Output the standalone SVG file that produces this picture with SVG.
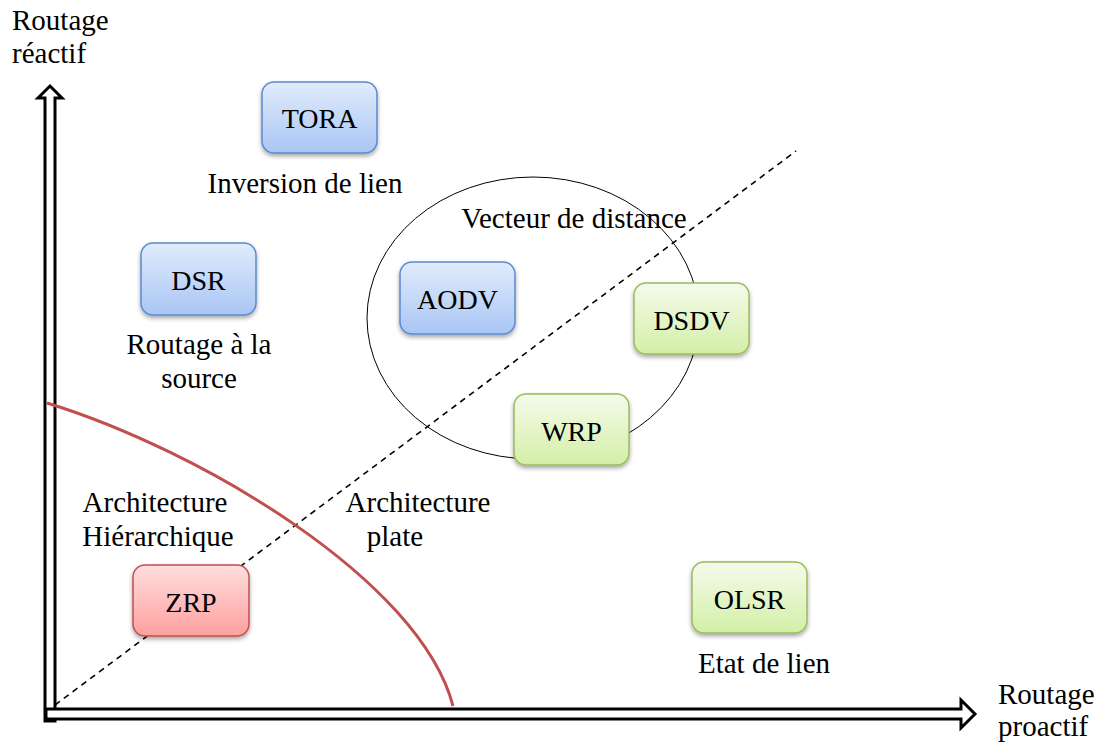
<svg xmlns="http://www.w3.org/2000/svg" width="1099" height="742" viewBox="0 0 1099 742">
  <defs>
    <linearGradient id="gBlue" x1="0" y1="0" x2="0" y2="1">
      <stop offset="0" stop-color="#e1ebfc"/>
      <stop offset="1" stop-color="#a9c6f4"/>
    </linearGradient>
    <linearGradient id="gGreen" x1="0" y1="0" x2="0" y2="1">
      <stop offset="0" stop-color="#f5fbec"/>
      <stop offset="1" stop-color="#d3efa7"/>
    </linearGradient>
    <linearGradient id="gRed" x1="0" y1="0" x2="0" y2="1">
      <stop offset="0" stop-color="#ffdede"/>
      <stop offset="1" stop-color="#ff9f9f"/>
    </linearGradient>
    <filter id="shadow" x="-20%" y="-20%" width="140%" height="150%">
      <feDropShadow dx="0" dy="2.5" stdDeviation="2" flood-color="#000" flood-opacity="0.35"/>
    </filter>
  </defs>
  <style>
    text { font-family: "Liberation Serif", "Times New Roman", serif; font-size: 29px; fill: #000; }
    .node text { font-size: 28px; }
    .mid { text-anchor: middle; }
    .box { filter: url(#shadow); stroke-width: 1.5; }
    .blue { fill: url(#gBlue); stroke: #5b89cf; }
    .green { fill: url(#gGreen); stroke: #9bbb59; }
    .red { fill: url(#gRed); stroke: #c0504d; }
    .axis { fill: #fff; stroke: #000; stroke-width: 3; stroke-linejoin: miter; }
  </style>

  <rect width="1099" height="742" fill="#fff"/>

  <!-- axes: hollow block arrows -->
  <g id="axes">
    <path class="axis" d="M45,721 L45,98 L38,98 L50,86 L62,98 L55,98 L55,721 Z"/>
    <path class="axis" d="M46,709 L961,709 L961,700 L975,714 L961,728 L961,719 L46,719 Z"/>
  </g>

  <!-- connectors and region outlines -->
  <g id="connectors">
    <line x1="55" y1="705" x2="796" y2="151" stroke="#000" stroke-width="1.6" stroke-dasharray="6,5"/>
    <ellipse cx="533" cy="318" rx="166" ry="141" fill="none" stroke="#000" stroke-width="1"/>
    <path d="M47,403 C200,450 420,580 453,706" fill="none" stroke="#c0504d" stroke-width="3"/>
  </g>

  <!-- axis labels -->
  <g id="label-reactif">
    <text x="12" y="30">Routage</text>
    <text x="12" y="63">réactif</text>
  </g>
  <g id="label-proactif">
    <text x="998" y="704">Routage</text>
    <text x="998" y="736">proactif</text>
  </g>

  <!-- category labels -->
  <g id="label-inversion"><text class="mid" x="305" y="193">Inversion de lien</text></g>
  <g id="label-vecteur"><text class="mid" x="574" y="228">Vecteur de distance</text></g>
  <g id="label-source">
    <text class="mid" x="199" y="354">Routage à la</text>
    <text class="mid" x="199" y="388">source</text>
  </g>
  <g id="label-hierarchique">
    <text class="mid" x="155" y="512">Architecture</text>
    <text class="mid" x="158" y="546">Hiérarchique</text>
  </g>
  <g id="label-plate">
    <text class="mid" x="418" y="512">Architecture</text>
    <text class="mid" x="395" y="546">plate</text>
  </g>
  <g id="label-etat"><text class="mid" x="764" y="673">Etat de lien</text></g>

  <!-- protocol nodes -->
  <g id="TORA" class="node">
    <rect class="box blue" x="262" y="82" width="115" height="71" rx="12"/>
    <text class="mid" x="319.5" y="128">TORA</text>
  </g>
  <g id="DSR" class="node">
    <rect class="box blue" x="141" y="243" width="115" height="72" rx="12"/>
    <text class="mid" x="198.5" y="290">DSR</text>
  </g>
  <g id="AODV" class="node">
    <rect class="box blue" x="400" y="262" width="115" height="72" rx="12"/>
    <text class="mid" x="457.5" y="309">AODV</text>
  </g>
  <g id="DSDV" class="node">
    <rect class="box green" x="634" y="283" width="115" height="71" rx="12"/>
    <text class="mid" x="691.5" y="330">DSDV</text>
  </g>
  <g id="WRP" class="node">
    <rect class="box green" x="514" y="394" width="115" height="71" rx="12"/>
    <text class="mid" x="571.5" y="441">WRP</text>
  </g>
  <g id="ZRP" class="node">
    <rect class="box red" x="133" y="565" width="116" height="71" rx="12"/>
    <text class="mid" x="191" y="612">ZRP</text>
  </g>
  <g id="OLSR" class="node">
    <rect class="box green" x="692" y="562" width="115" height="71" rx="12"/>
    <text class="mid" x="749.5" y="609">OLSR</text>
  </g>
</svg>
